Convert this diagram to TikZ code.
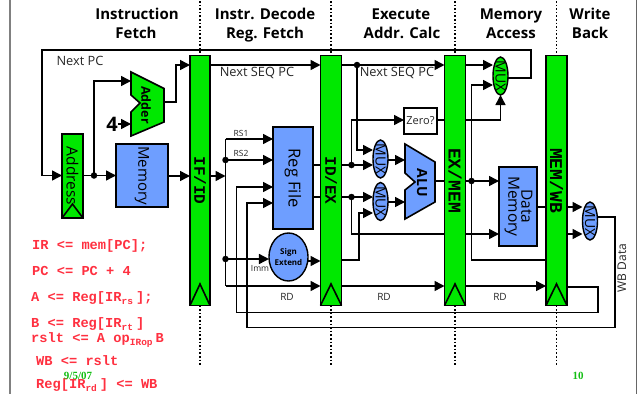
\documentclass[tikz,border=0pt]{standalone}
\usepackage{graphicx}
\usepackage{fontspec}
\setmainfont{Open Sans}
\newfontfamily\codefont{Liberation Mono}
\newfontfamily\datefont{Liberation Serif}
\usetikzlibrary{arrows.meta,shapes.geometric}
\definecolor{barg}{RGB}{0,232,0}
\definecolor{boxb}{RGB}{110,158,255}
\definecolor{codered}{RGB}{255,48,64}
\definecolor{dategreen}{RGB}{20,190,20}
\newcommand{\rotl}[1]{\rotatebox{-90}{#1}}
\newcommand{\subt}[1]{\raisebox{-2.5pt}{\fontsize{9.5}{9.5}\selectfont #1}\kern3pt}
\tikzset{
  x=1pt,y=-1pt,
  bar/.style={draw=black,fill=barg,line width=1.7pt,inner sep=0pt,outer sep=0pt,text=black,font=\codefont\bfseries\fontsize{16}{16}\selectfont},
  widebar/.style={bar,font=\codefont\bfseries\fontsize{18}{18}\selectfont},
  blk/.style={draw=black,fill=boxb,line width=1.7pt,inner sep=0pt,outer sep=0pt,font=\fontsize{15}{15}\selectfont},
  muxb/.style={ellipse,draw=black,fill=boxb,line width=1.4pt,inner sep=0pt,outer sep=0pt,minimum width=15pt,minimum height=38pt},
  muxg/.style={muxb,fill=barg},
  muxlab/.style={inner sep=0pt,rotate=-90,font=\fontsize{14}{14}\selectfont},
  conn/.style={line width=1.5pt,-{Triangle[length=10pt,width=10pt]}},
  wire/.style={line width=1.5pt},
  clk/.style={line width=1.6pt},
  dot/.style={circle,fill=black,inner sep=0pt,minimum size=6.5pt},
  phase/.style={font=\bfseries\fontsize{15}{15}\selectfont,text=black,text height=11pt,text depth=3pt},
  lab/.style={font=\fontsize{12.8}{12.8}\selectfont,text=black!85,inner sep=0pt},
  small/.style={font=\fontsize{8.5}{8.5}\selectfont,text=black!85,inner sep=0pt},
  code/.style={anchor=west,inner sep=0pt,text=codered,font=\codefont\bfseries\fontsize{13.7}{13.7}\selectfont},
  stamp/.style={inner sep=0pt,text=dategreen,font=\datefont\bfseries\fontsize{11}{11}\selectfont},
  tick/.style={line width=1.6pt,dash pattern=on 1.6pt off 2pt},
}
\begin{document}
\begin{tikzpicture}
\useasboundingbox (0,0) rectangle (638,394);
% frame
\draw[line width=2pt,black!50] (10,0) -- (10,394);
\draw[line width=1pt,black!60] (636,0) -- (636,394);
% stage headers
\node[phase] (h1a) at (137,15) {Instruction};
\node[phase] (h1b) at (136,34) {Fetch};
\node[phase] (h2a) at (265,15) {Instr. Decode};
\node[phase] (h2b) at (265,34) {Reg. Fetch};
\node[phase] (h3a) at (401,15) {Execute};
\node[phase] (h3b) at (402,34) {Addr. Calc};
\node[phase] (h4a) at (511,15) {Memory};
\node[phase] (h4b) at (511,34) {Access};
\node[phase] (h5a) at (590,15) {Write};
\node[phase] (h5b) at (590,34) {Back};
% blocks
\node[bar,minimum width=20pt,minimum height=250pt] (ifid) at (200,180.5) {\rotl{IF/ID}};
\node[bar,minimum width=21pt,minimum height=250pt] (idex) at (331,180.5) {\rotl{ID/EX}};
\node[widebar,minimum width=21pt,minimum height=250pt] (exmem) at (455,180.5) {\rotl{EX/MEM}};
\node[widebar,minimum width=21pt,minimum height=250pt] (memwb) at (556.5,180.5) {\rotl{MEM/WB}};
\node[bar,minimum width=21pt,minimum height=84pt,font=\fontsize{15.5}{15.5}\selectfont] (addr) at (72.5,176) {\rotl{Address}};
\node[blk,minimum width=52pt,minimum height=63pt] (imem) at (142,175.5) {\rotl{Memory}};
\node[blk,minimum width=40pt,minimum height=102pt,font=\fontsize{16.5}{16.5}\selectfont] (regs) at (293,178) {\rotl{Reg File}};
\node[blk,minimum width=38pt,minimum height=79pt,font=\fontsize{15.5}{16}\selectfont] (dmem) at (518,206.5) {\rotl{\begin{tabular}{@{}c@{}}Data\\[-3pt]Memory\end{tabular}}};
\node[blk,ellipse,minimum width=31pt,minimum height=48pt,line width=1.4pt,font=\bfseries\fontsize{8}{10.5}\selectfont,align=center] (sext) at (288.5,257) {Sign\\Extend};
\node[draw=black,line width=1.6pt,inner sep=0pt,outer sep=0pt,minimum width=33pt,minimum height=26pt,font=\fontsize{11}{11}\selectfont,text=black!85] (zero) at (420.5,121) {Zero?};
\node[muxb] (mua) at (380.5,159) {};
\node[muxb] (mub) at (380.5,201.5) {};
\node[muxg] (mum) at (500.5,76) {};
\node[muxb] (muw) at (590,221) {};
\node[muxlab] (mual) at (mua.center) {MUX};
\node[muxlab] (mubl) at (mub.center) {MUX};
\node[muxlab] (muml) at (mum.center) {MUX};
\node[muxlab] (muwl) at (muw.center) {MUX};
% adder and ALU
\draw[line width=1.6pt,fill=barg,line join=miter] (131,72) -- (164,88.5) -- (164,122) -- (131,136) -- (131,112) -- (140,103) -- (131,95) -- cycle;
\node[font=\bfseries\fontsize{12.5}{12.5}\selectfont,inner sep=0pt,rotate=-90] (addlab) at (146,105) {Adder};
\draw[line width=1.6pt,fill=boxb,line join=miter] (405,144) -- (435,162) -- (435,202) -- (405,219) -- (405,190) -- (415,182) -- (405,173) -- cycle;
\node[font=\bfseries\fontsize{14}{14}\selectfont,inner sep=0pt,rotate=-90] (alulab) at (422,183) {ALU};
\coordinate (addA) at (131,81);
\coordinate (addB) at (131,124);
\coordinate (addO) at (164,102);
\coordinate (aluA) at (405,160);
\coordinate (aluB) at (405,202);
\coordinate (aluO) at (435,181);
\node[font=\bfseries\fontsize{20}{20}\selectfont,inner sep=0pt] (four) at (112,124) {4};
% clock triangles
\foreach \b in {ifid,idex,exmem,memwb}
  \draw[clk] (\b.south west) -- (\b.south |- 0,284) -- (\b.south east);
\draw[clk] (addr.south west) -- (addr.south |- 0,204) -- (addr.south east);
% phase separators
\foreach \b in {ifid,idex,exmem,memwb}{
  \draw[tick] (\b.north |- 0,1) -- (\b.north);
  \draw[tick] (\b.south) -- (\b.south |- 0,365);
}
% junction coordinates
\coordinate (ja) at (94,175.5);
\coordinate (jb) at (225.5,176);
\coordinate (jc) at (225.5,160);
\coordinate (jd) at (225.5,259);
\coordinate (je) at (357,65);
\coordinate (jf) at (351.5,165);
\coordinate (jg) at (351.5,197);
\coordinate (jh) at (471.5,181);
% fetch
\draw[conn] (mum.east |- 0,78) -- (531,78) -- (531,50) -- (42,50) -- (42,175.5) -- (addr.west |- 0,175.5);
\draw[conn] (addr.east |- 0,175.5) -- (imem.west |- 0,175.5);
\draw[conn] (ja) -- (ja |- addA) -- (addA);
\draw[conn] (four.east) -- (addB);
\draw[conn] (addO) -- (176,102) -- (176,65) -- (ifid.west |- 0,65);
\draw[conn] (imem.east |- 0,176) -- (ifid.west |- 0,176);
\draw[conn] (ifid.east |- 0,65) -- (idex.west |- 0,65);
% decode
\draw[conn] (ifid.east |- 0,176) -- (jb);
\draw[wire] (225.5,139) -- (225.5,286);
\draw[conn] (225.5,139) -- (regs.west |- 0,139);
\draw[conn] (jc) -- (regs.west |- jc);
\draw[conn] (jd) -- (sext.west |- jd);
\draw[conn] (225.5,286) -- (idex.west |- 0,286);
\draw[conn] (memwb.east |- 0,287) -- (598,287) -- (598,312.5) -- (236.5,312.5) -- (236.5,187) -- (regs.west |- 0,187);
\draw[conn] (muw.east |- 0,217) -- (615,217) -- (615,327.5) -- (247,327.5) -- (247,203) -- (regs.west |- 0,203);
\draw[conn] (sext.east |- 0,261) -- (idex.west |- 0,261);
\draw[wire] (regs.east |- 0,165) -- (idex.west |- 0,165);
\draw[wire] (regs.east |- 0,197) -- (idex.west |- 0,197);
% execute
\draw[conn] (idex.east |- je) -- (exmem.west |- je);
\draw[conn] (je) -- (357,150) -- (mua.west |- 0,150);
\draw[conn] (idex.east |- jf) -- (mua.west |- jf);
\draw[conn] (jf) -- (351.5,120) -- (zero.west |- 0,120);
\draw[conn] (idex.east |- jg) -- (mub.west |- jg);
\draw[wire] (jg) -- (351.5,234) -- (exmem.west |- 0,234);
\draw[conn] (idex.east |- 0,260) -- (359,260) -- (359,213) -- (mub.west |- 0,213);
\draw[conn] (mua.east |- aluA) -- (aluA);
\draw[conn] (mub.east |- aluB) -- (aluB);
\draw[wire] (aluO) -- (exmem.west |- aluO);
\draw[wire] (zero.east |- 0,120) -- (exmem.west |- 0,120);
\draw[conn] (idex.east |- 0,286) -- (exmem.west |- 0,286);
% memory
\draw[conn] (exmem.east |- 0,65) -- (mum.west |- 0,65);
\draw[conn] (exmem.east |- 0,120) -- (mum.south |- 0,120) -- (mum.south);
\draw[conn] (exmem.east |- jh) -- (dmem.west |- jh);
\draw[conn] (jh) -- (471.5,85) -- (mum.west |- 0,85);
\draw[wire] (jh) -- (471.5,260) -- (memwb.west |- 0,260);
\draw[conn] (exmem.east |- 0,234) -- (dmem.west |- 0,234);
\draw[conn] (exmem.east |- 0,286) -- (memwb.west |- 0,286);
\draw[wire] (dmem.east |- 0,207) -- (memwb.west |- 0,207);
% write back
\draw[conn] (memwb.east |- 0,207) -- (muw.west |- 0,207);
\draw[conn] (memwb.east |- 0,234) -- (muw.west |- 0,234);
% junction dots
\foreach \j in {ja,jc,jd,je,jf,jg,jh}
  \node[dot] at (\j) {};
% labels
\node[lab] (nextpc) at (80,61) {Next PC};
\node[lab] (seqa) at (257,73) {Next SEQ PC};
\node[lab] (seqb) at (397,73) {Next SEQ PC};
\node[small] (rs1) at (241,133) {RS1};
\node[small] (rs2) at (241,153) {RS2};
\node[small] (imm) at (260,268) {Imm};
\node[lab,font=\fontsize{10}{10}\selectfont] (rda) at (287,297) {RD};
\node[lab,font=\fontsize{10}{10}\selectfont] (rdb) at (384,297) {RD};
\node[lab,font=\fontsize{10}{10}\selectfont] (rdc) at (500,297) {RD};
\node[lab,font=\fontsize{12}{12}\selectfont,rotate=90] (wbd) at (622,268) {WB Data};
% register transfers
\node[code] (c1) at (32,246) {IR <= mem[PC];};
\node[code] (c2) at (32,271) {PC <= PC + 4};
\node[code] (c3) at (31,298) {A <= Reg[IR\subt{rs}];};
\node[code] (c4) at (31,324) {B <= Reg[IR\subt{rt}]};
\node[code] (c5) at (31,340) {rslt <= A op\subt{IRop} B};
\node[code] (c6) at (36,361) {WB <= rslt};
\node[code] (c7) at (36,385) {Reg[IR\subt{rd}] <= WB};
\node[stamp] (date) at (78,376) {9/5/07};
\node[stamp] (page) at (578,376) {10};
\end{tikzpicture}
\end{document}
